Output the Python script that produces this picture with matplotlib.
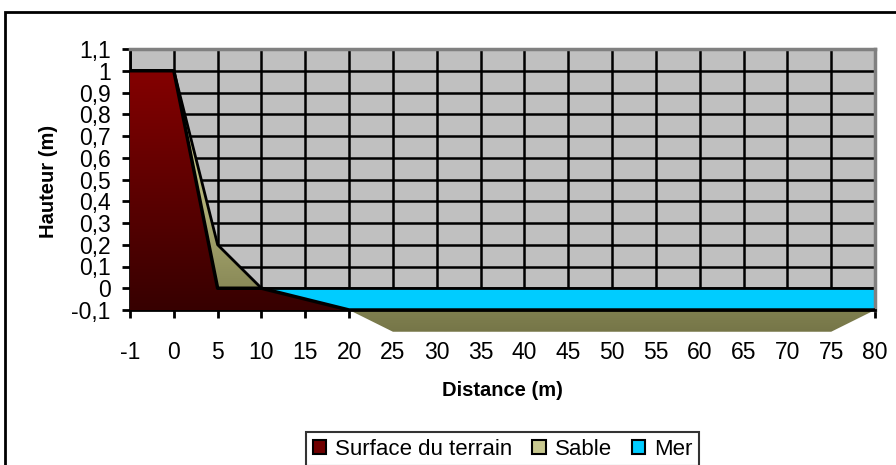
import numpy as np
import matplotlib
matplotlib.use("Agg")
import matplotlib.pyplot as plt
from matplotlib.patches import Polygon, Rectangle, Patch

plt.rcParams['font.family'] = ['Liberation Sans', 'DejaVu Sans']

# data
distances = ["-1", "0", "5", "10", "15", "20", "25", "30", "35", "40",
             "45", "50", "55", "60", "65", "70", "75", "80"]
terrain = [1, 1, 0, 0, -0.05, -0.1, -0.1, -0.1, -0.1, -0.1,
           -0.1, -0.1, -0.1, -0.1, -0.1, -0.1, -0.1, -0.1]
sable = [1, 1, 0.2, 0, -0.05, -0.1, -0.2, -0.2, -0.2, -0.2,
         -0.2, -0.2, -0.2, -0.2, -0.2, -0.2, -0.2, -0.1]
mer = [np.nan, np.nan, np.nan, 0, 0, 0, 0, 0, 0, 0,
       0, 0, 0, 0, 0, 0, 0, 0]
y_ticks = [-0.1, 0, 0.1, 0.2, 0.3, 0.4, 0.5, 0.6, 0.7, 0.8, 0.9, 1, 1.1]

W, H = 896, 465
fig = plt.figure(figsize=(W / 100, H / 100), dpi=100)
ax = fig.add_axes([130 / W, 1 - 310 / H, 745 / W, 261 / H])
ax.set_facecolor('#C0C0C0')

x = np.arange(len(distances))
base = -0.1


def gradient_fill(vals, top_rgb, bot_rgb, y0, y1, z):
    verts = [(x[0], base)] + list(zip(x, vals)) + [(x[-1], base)]
    poly = Polygon(verts, closed=True, transform=ax.transData,
                   facecolor='none', edgecolor='none')
    ax.add_patch(poly)
    t = np.linspace(0, 1, 256)[:, None]
    top = np.array(top_rgb) / 255.0
    bot = np.array(bot_rgb) / 255.0
    img = top[None, None, :] * (1 - t[:, :, None]) + bot[None, None, :] * t[:, :, None]
    im = ax.imshow(img, extent=[x[0], x[-1], y0, y1], aspect='auto',
                   origin='upper', zorder=z, interpolation='bilinear')
    im.set_clip_box(fig.bbox)
    im.set_clip_path(poly)
    return im


# sable (back)
gradient_fill(sable, (235, 235, 165), (118, 118, 72), -0.2, 1.0, 1)
ax.plot(x, sable, color='black', lw=2, zorder=1.1)

# mer
mer_arr = np.array(mer, dtype=float)
ax.fill_between(x, base, mer_arr, where=~np.isnan(mer_arr), facecolor='#00CCFF',
                edgecolor='black', lw=2, zorder=2)

# terrain (front)
gradient_fill(terrain, (132, 0, 0), (55, 0, 0), -0.1, 1.0, 3)
ax.plot(x, terrain, color='black', lw=2.5, zorder=3.1)

ax.set_xlim(x[0], x[-1])
ax.set_ylim(-0.1, 1.1)
ax.set_xticks(x)
ax.set_xticklabels(distances)
ax.set_yticks(y_ticks)
ax.set_yticklabels([f"{v:g}".replace('.', ',') for v in y_ticks])
ax.grid(True, color='black', lw=1.8)
ax.set_axisbelow(True)

ax.tick_params(axis='both', direction='out', length=6, width=2, labelsize=16.5)
ax.tick_params(axis='x', pad=16)
ax.tick_params(axis='y', pad=8)
for s in ['left', 'bottom']:
    ax.spines[s].set_color('black')
    ax.spines[s].set_linewidth(2)
for s in ['top', 'right']:
    ax.spines[s].set_color('#808080')
    ax.spines[s].set_linewidth(2.5)

fig.text(502 / W, 1 - 390 / H, "Distance (m)", ha='center', va='center',
         fontsize=14.5, fontweight='bold')
fig.text(48 / W, 1 - 181 / H, "Hauteur (m)", ha='center', va='center',
         rotation=90, fontsize=14.5, fontweight='bold')

handles = [Patch(facecolor='#700000', edgecolor='black', lw=1.5),
           Patch(facecolor='#C8C890', edgecolor='black', lw=1.5),
           Patch(facecolor='#00CCFF', edgecolor='black', lw=1.5)]
leg = fig.legend(handles, ["Surface du terrain", "Sable", "Mer"], ncol=3,
                 loc='center', bbox_to_anchor=(502.5 / W, 1 - 449 / H),
                 fontsize=16, frameon=True, fancybox=False,
                 handlelength=0.6, handleheight=0.6, handletextpad=0.4,
                 columnspacing=0.9, borderpad=0.3, borderaxespad=0)
leg.get_frame().set_edgecolor('black')
leg.get_frame().set_linewidth(1.5)

fig.patches.append(Rectangle((5 / W, -0.1), 1.2, (H - 12) / H + 0.1,
                             transform=fig.transFigure, fill=False,
                             edgecolor='black', lw=2))

fig.savefig("out.png", dpi=100)
